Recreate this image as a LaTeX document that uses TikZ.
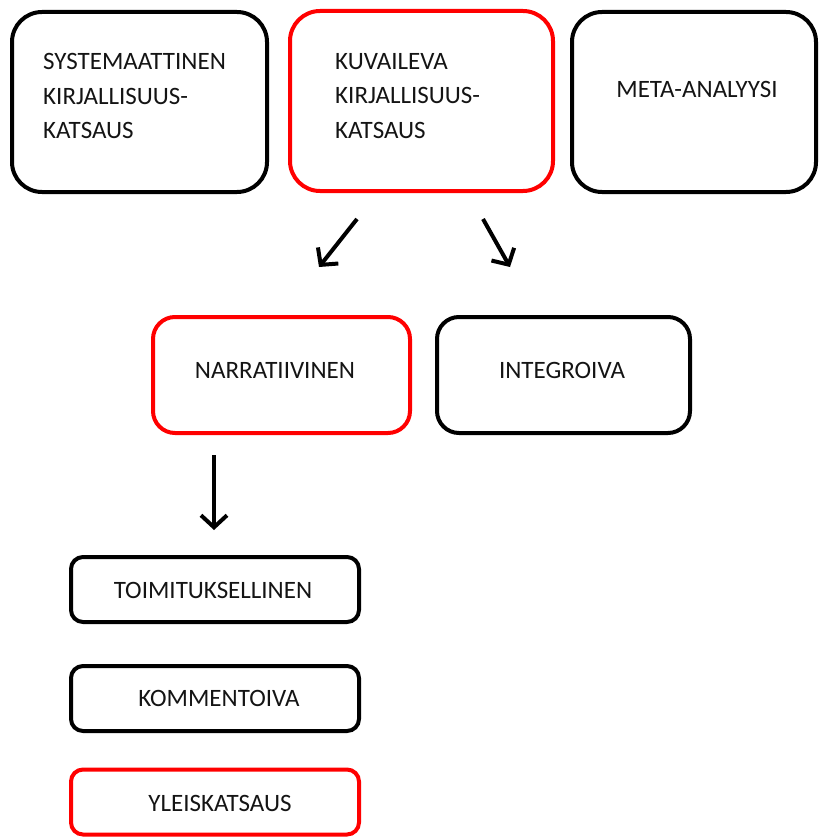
\documentclass[tikz,border=0pt]{standalone}
\usepackage{fontspec}
\setmainfont{Carlito}
\usetikzlibrary{arrows.meta,calc}
\tikzset{
  bigbox/.style={draw=black, line width=4pt, rounded corners=30pt, minimum width=#1, minimum height=180pt, inner sep=0pt},
  midbox/.style={draw=black, line width=4pt, rounded corners=22pt, minimum width=#1, minimum height=116pt, inner sep=0pt},
  smallbox/.style={draw=black, line width=4pt, rounded corners=12pt, minimum width=288pt, minimum height=65pt, inner sep=0pt},
  redline/.style={draw=red},
  lbl/.style={font=\fontsize{25}{34.5}\selectfont, text=black!92, inner sep=0pt, align=left},
  arr/.style={line width=4pt, -{Straight Barb[length=12pt,width=26pt,line width=4pt]}}
}
\begin{document}
\begin{tikzpicture}[x=1pt,y=-1pt]
\useasboundingbox (0,0) rectangle (819,837);
% top row
\node[bigbox=255pt] (sys) at (139.5,102) {};
\node[bigbox=263pt, redline] (kuv) at (421.5,101) {};
\node[bigbox=244pt] (meta) at (694,102) {};
\node[lbl, anchor=west] (tsys) at (43,96) {SYSTEMAATTINEN\\KIRJALLISUUS-\\KATSAUS};
\node[lbl, anchor=west] (tkuv) at (335,96) {KUVAILEVA\\KIRJALLISUUS-\\KATSAUS};
\node[lbl] (tmeta) at (697,89) {META-ANALYYSI};
% middle row
\node[midbox=257pt, redline] (nar) at (281.5,375) {};
\node[midbox=253pt] (int) at (563.5,375) {};
\node[lbl] (tnar) at (275,370) {NARRATIIVINEN};
\node[lbl] (tint) at (562,370) {INTEGROIVA};
% bottom column
\node[smallbox] (toi) at (215,589.5) {};
\node[smallbox] (kom) at (215,698.5) {};
\node[smallbox, redline] (yle) at (215,802) {};
\node[lbl] (ttoi) at (213,590) {TOIMITUKSELLINEN};
\node[lbl] (tkom) at (219,698) {KOMMENTOIVA};
\node[lbl] (tyle) at (220,803) {YLEISKATSAUS};
% arrows
\coordinate (a1s) at ($(kuv.south)+(-64.5,26)$);
\coordinate (a1e) at ($(nar.north)+(37.5,-48)$);
\coordinate (a2s) at ($(kuv.south)+(61.5,26)$);
\coordinate (a2e) at ($(int.north)+(-53.5,-48)$);
\coordinate (a3s) at ($(nar.south)+(-67.5,20)$);
\coordinate (a3e) at ($(toi.north)+(-1,-25)$);
\draw[arr] (a1s) -- (a1e);
\draw[arr] (a2s) -- (a2e);
\draw[arr] (a3s) -- (a3e);
\end{tikzpicture}
\end{document}
